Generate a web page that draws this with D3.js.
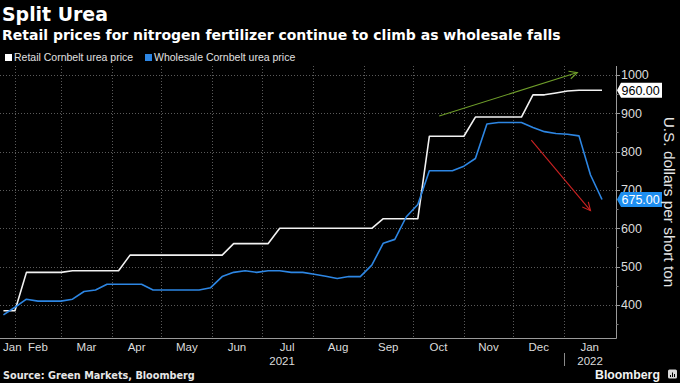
<!DOCTYPE html>
<html><head><meta charset="utf-8">
<script src="https://cdn.jsdelivr.net/npm/d3@7"></script>
<style>html,body{margin:0;padding:0;background:#000;}svg{display:block;}</style>
</head><body>
<svg id="c" width="680" height="383"></svg>
<script>
// ---- data ----
const dates = ["2021-01-25","2021-02-01","2021-02-08","2021-02-15","2021-02-22","2021-03-01","2021-03-08","2021-03-15","2021-03-22","2021-03-29",
"2021-04-05","2021-04-12","2021-04-19","2021-04-26","2021-05-03","2021-05-10","2021-05-17","2021-05-24","2021-05-31","2021-06-07",
"2021-06-14","2021-06-21","2021-06-28","2021-07-05","2021-07-12","2021-07-19","2021-07-26","2021-08-02","2021-08-09","2021-08-16",
"2021-08-23","2021-08-30","2021-09-06","2021-09-13","2021-09-20","2021-09-27","2021-10-04","2021-10-11","2021-10-18","2021-10-25",
"2021-11-01","2021-11-08","2021-11-15","2021-11-22","2021-11-29","2021-12-06","2021-12-13","2021-12-20","2021-12-27","2022-01-03",
"2022-01-10","2022-01-17","2022-01-24"];
const retail = [385,385,485,485,485,485,489,489,489,489,
489,530,530,530,530,530,530,530,530,530,
560,560,560,560,600,600,600,600,600,600,
600,600,600,625,625,625,625,840,840,840,
840,890,890,890,890,890,948,948,953,958,
960,960,960];
const wholesale = [374,394,415,410,410,410,415,435,439,454,
454,454,454,439,439,439,439,439,445,474,
485,489,485,489,489,485,485,480,475,469,
474,474,504,561,571,630,662,750,750,750,
762,782,872,876,876,876,863,852,847,845,
841,739,675];
const seriesNames = ["Retail Cornbelt urea price","Wholesale Cornbelt urea price"];
const lastLabels = ["960.00","675.00"];
const yTicks = [400,500,600,700,800,900,1000];
const yMinorTicks = [350,450,550,650,750,850,950];
const monthStarts = ["2021-01-01","2021-02-01","2021-03-01","2021-04-01","2021-05-01","2021-06-01","2021-07-01","2021-08-01",
"2021-09-01","2021-10-01","2021-11-01","2021-12-01","2022-01-01","2022-02-01"];
const monthLabels = ["Jan","Feb","Mar","Apr","May","Jun","Jul","Aug","Sep","Oct","Nov","Dec","Jan"];
const yearLabels = ["2021","2022"];
const yearStarts = ["2021-01-01","2022-01-01","2023-01-01"];
const arrowUp = [["2021-10-17",893],["2022-01-09",1006]];
const arrowDown = [["2021-12-12",830],["2022-01-17",646]];

// ---- layout ----
const P = {left:0, right:616, top:66, bottom:338};
const parse = d3.timeParse("%Y-%m-%d");
const svg = d3.select("#c");
svg.append("rect").attr("width",680).attr("height",383).attr("fill","#000");

const x = d3.scaleTime().domain([new Date(2021,0,22,22), new Date(2022,1,1,12)]).range([P.left,P.right]);
const y = d3.scaleLinear().domain([313.8,1023.2]).range([P.bottom,P.top]);

function fit(sel, w){
  const l = sel.node().getComputedTextLength();
  const fs = parseFloat(sel.attr("font-size"));
  sel.attr("font-size", fs*w/l);
  return sel;
}
const sans = "'Liberation Sans', Arial, sans-serif";
const bold = "'DejaVu Sans', sans-serif";

// titles
fit(svg.append("text").attr("x",2).attr("y",21).attr("fill","#fff").attr("font-family",bold)
  .attr("font-weight","bold").attr("font-size",20).text("Split Urea"),106);
fit(svg.append("text").attr("x",2).attr("y",39.5).attr("fill","#fff").attr("font-family",bold)
  .attr("font-weight","bold").attr("font-size",15).text("Retail prices for nitrogen fertilizer continue to climb as wholesale falls"),559);

// legend
const legColors = ["#ffffff","#2d86e3"];
const legX = [5,145];
seriesNames.forEach((n,i)=>{
  svg.append("rect").attr("x",legX[i]).attr("y",54).attr("width",7).attr("height",7).attr("fill",legColors[i]);
  svg.append("text").attr("x",legX[i]+9).attr("y",60.5).attr("fill","#e0e0e0").attr("font-family",sans)
    .attr("font-size",10.5).text(n);
});

// grid
const grid = svg.append("g").attr("stroke","#5a5a5a").attr("stroke-width",1).attr("stroke-dasharray","1,2");
grid.selectAll("line.h").data(yTicks).join("line").attr("class","h")
  .attr("x1",P.left).attr("x2",P.right).attr("y1",d=>Math.round(y(d))+0.5).attr("y2",d=>Math.round(y(d))+0.5);
const monthDates = monthStarts.map(parse);
grid.selectAll("line.v").data(monthDates.filter(d=>x(d)>P.left+1 && x(d)<P.right-1)).join("line").attr("class","v")
  .attr("x1",d=>Math.round(x(d))+0.5).attr("x2",d=>Math.round(x(d))+0.5).attr("y1",P.top).attr("y2",P.bottom);

// lines
const pd = dates.map(parse);
const line = d3.line().x((d,i)=>x(pd[i])).y(d=>y(d));
svg.append("clipPath").attr("id","clip").append("rect").attr("x",P.left).attr("y",P.top).attr("width",P.right-P.left).attr("height",P.bottom-P.top);
const lg = svg.append("g").attr("clip-path","url(#clip)");
lg.append("path").datum(retail).attr("d",line).attr("fill","none").attr("stroke","#f2f2f2").attr("stroke-width",1.6).attr("stroke-linejoin","round");
lg.append("path").datum(wholesale).attr("d",line).attr("fill","none").attr("stroke","#2d86e3").attr("stroke-width",1.6).attr("stroke-linejoin","round");

// arrows
function arrow(a,color){
  const x1=x(parse(a[0][0])), y1=y(a[0][1]), x2=x(parse(a[1][0])), y2=y(a[1][1]);
  const ang=Math.atan2(y2-y1,x2-x1), L=9, s=0.45;
  const g=svg.append("g").attr("stroke",color).attr("stroke-width",1.1).attr("fill","none");
  g.append("line").attr("x1",x1).attr("y1",y1).attr("x2",x2).attr("y2",y2);
  g.append("path").attr("d",`M${x2-L*Math.cos(ang-s)},${y2-L*Math.sin(ang-s)}L${x2},${y2}L${x2-L*Math.cos(ang+s)},${y2-L*Math.sin(ang+s)}`);
}
arrow(arrowUp,"#6f9e2a");
arrow(arrowDown,"#cc2222");

// axes
svg.append("line").attr("x1",P.left).attr("x2",P.right+0.5).attr("y1",P.bottom+0.5).attr("y2",P.bottom+0.5).attr("stroke","#9a9a9a");
svg.append("line").attr("x1",P.right+0.5).attr("x2",P.right+0.5).attr("y1",P.top).attr("y2",P.bottom+0.5).attr("stroke","#9a9a9a");
svg.selectAll("line.yt").data(yTicks).join("line").attr("class","yt")
  .attr("x1",P.right).attr("x2",P.right+4).attr("y1",d=>Math.round(y(d))+0.5).attr("y2",d=>Math.round(y(d))+0.5).attr("stroke","#9a9a9a");
svg.selectAll("line.ym").data(yMinorTicks).join("line").attr("class","ym")
  .attr("x1",P.right).attr("x2",P.right+2.5).attr("y1",d=>Math.round(y(d))+0.5).attr("y2",d=>Math.round(y(d))+0.5).attr("stroke","#777");
svg.selectAll("text.yl").data(yTicks).join("text").attr("class","yl")
  .attr("x",P.right+5).attr("y",d=>y(d)+4.4).attr("fill","#dcdcdc").attr("font-family",sans).attr("font-size",12.5).text(d=>d);

// month labels
monthLabels.forEach((m,i)=>{
  const a=Math.max(x(monthDates[i]),P.left), b=Math.min(x(monthDates[i+1]),P.right);
  const t=svg.append("text").attr("y",350.5).attr("fill","#dcdcdc").attr("font-family",sans).attr("font-size",11.5)
    .attr("text-anchor","middle").text(m);
  const w=t.node().getComputedTextLength();
  t.attr("x",Math.max((a+b)/2, P.left+3+w/2));
});
const yd = yearStarts.map(parse);
yearLabels.forEach((yl,i)=>{
  const a=Math.max(x(yd[i]),P.left), b=Math.min(x(yd[i+1]),P.right);
  svg.append("text").attr("x",(a+b)/2).attr("y",364.5).attr("fill","#dcdcdc").attr("font-family",sans).attr("font-size",11.5)
    .attr("text-anchor","middle").text(yl);
  if(i>0) svg.append("line").attr("x1",Math.round(x(yd[i]))+0.5).attr("x2",Math.round(x(yd[i]))+0.5).attr("y1",353).attr("y2",366).attr("stroke","#8a8a8a");
});

// last value labels
const lastVals=[retail[retail.length-1], wholesale[wholesale.length-1]];
const boxFill=["#ffffff","#1e8ef0"], boxText=["#000","#fff"];
lastVals.forEach((v,i)=>{
  const cy=y(v), h=15, tip=P.right+1, bl=P.right+5, br=662;
  svg.append("path").attr("d",`M${tip},${cy}L${bl},${cy-h/2}L${br},${cy-h/2}L${br},${cy+h/2}L${bl},${cy+h/2}Z`).attr("fill",boxFill[i]);
  svg.append("text").attr("x",bl+0.5).attr("y",cy+4.5).attr("fill",boxText[i]).attr("font-family",sans).attr("font-size",12.5).text(lastLabels[i]);
});

// y title
fit(svg.append("text").attr("transform","translate(664,202) rotate(90)").attr("text-anchor","middle")
  .attr("fill","#e6e6e6").attr("font-family",sans).attr("font-size",15.5).text("U.S. dollars per short ton"),171);

// footer
fit(svg.append("text").attr("x",3).attr("y",378.5).attr("fill","#e6e6e6").attr("font-family",bold).attr("font-weight","bold")
  .attr("font-size",11).text("Source: Green Markets, Bloomberg"),192);
fit(svg.append("text").attr("x",595).attr("y",378.5).attr("fill","#f2f2f2").attr("font-family",sans).attr("font-weight","bold")
  .attr("font-size",14).text("Bloomberg"),65);
svg.append("rect").attr("x",668).attr("y",369.5).attr("width",9).attr("height",9).attr("rx",1.5).attr("fill","#d8d8d8");
[[670,375,1,2],[672,372.5,1,4.5],[674,374,1,3]].forEach(r=>svg.append("rect").attr("x",r[0]).attr("y",r[1]).attr("width",r[2]).attr("height",r[3]).attr("fill","#000"));
</script>
</body></html>
